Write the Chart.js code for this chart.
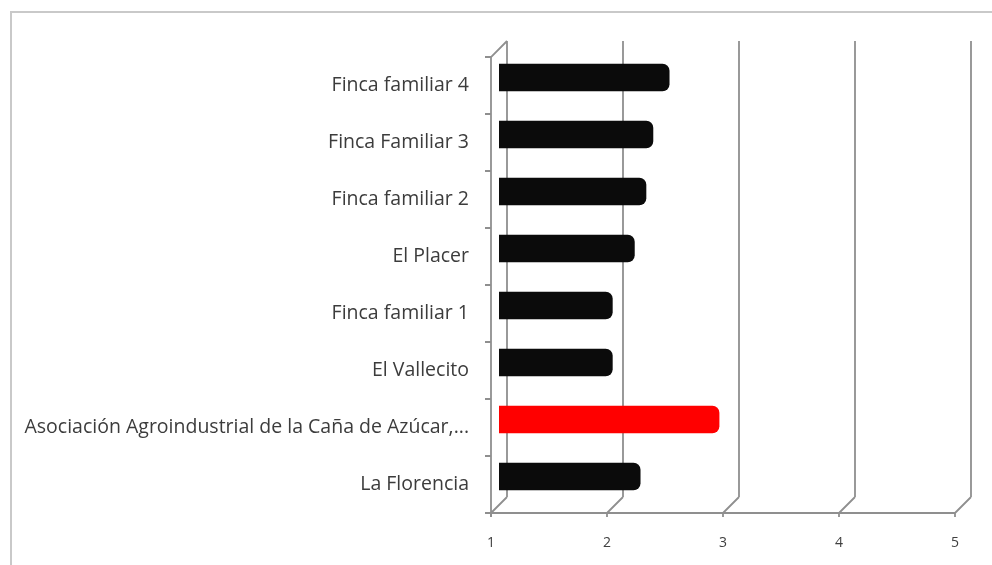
<!DOCTYPE html>
<html>
<head>
<meta charset="utf-8">
<script src="https://cdn.jsdelivr.net/npm/chart.js@4.4.1/dist/chart.umd.min.js"></script>
<style>
  html, body { margin: 0; padding: 0; background: #ffffff; }
  #wrap { width: 992px; height: 565px; position: relative; }
</style>
</head>
<body>
<div id="wrap"><canvas id="c" width="992" height="565"></canvas></div>
<script>
// Farms / organisations, top to bottom
const categories = [
  'Finca familiar 4',
  'Finca Familiar 3',
  'Finca familiar 2',
  'El Placer',
  'Finca familiar 1',
  'El Vallecito',
  'Asociación Agroindustrial de la Caña de Azúcar,...',
  'La Florencia'
];
const scores = [2.47, 2.33, 2.27, 2.17, 1.98, 1.98, 2.9, 2.22];
const barColors = ['#0b0b0b', '#0b0b0b', '#0b0b0b', '#0b0b0b', '#0b0b0b', '#0b0b0b', '#ff0000', '#0b0b0b'];
const axisTicks = [1, 2, 3, 4, 5];

const DEPTH = 8; // half depth of the pseudo-3D box, in px
const WALL = '#8f8f8f';

// Outer frame of the chart
const framePlugin = {
  id: 'frame',
  beforeDraw(chart) {
    const ctx = chart.ctx;
    ctx.save();
    ctx.strokeStyle = '#c9c9c9';
    ctx.lineWidth = 2;
    ctx.beginPath();
    ctx.moveTo(11, 565);
    ctx.lineTo(11, 12);
    ctx.lineTo(992, 12);
    ctx.stroke();
    ctx.restore();
  }
};

// Back wall, side wall and floor of the 3D box
const wallsPlugin = {
  id: 'walls',
  beforeDatasetsDraw(chart) {
    const { ctx, chartArea: a, scales } = chart;
    const xs = scales.x;
    const top = a.top, bottom = a.bottom;
    ctx.save();
    ctx.strokeStyle = WALL;
    ctx.lineWidth = 1.8;
    ctx.beginPath();
    // back wall verticals
    axisTicks.forEach(v => {
      const px = xs.getPixelForValue(v) + DEPTH;
      ctx.moveTo(px, top - DEPTH);
      ctx.lineTo(px, bottom - DEPTH);
      // floor diagonals
      ctx.moveTo(px, bottom - DEPTH);
      ctx.lineTo(px - 2 * DEPTH, bottom + DEPTH);
    });
    // floor front edge
    const f1 = xs.getPixelForValue(axisTicks[0]) - DEPTH;
    const f5 = xs.getPixelForValue(axisTicks[axisTicks.length - 1]) - DEPTH;
    ctx.moveTo(f1, bottom + DEPTH);
    ctx.lineTo(f5, bottom + DEPTH);
    // side wall front edge and top diagonal
    ctx.moveTo(f1, bottom + DEPTH + 4);
    ctx.lineTo(f1, top + DEPTH);
    ctx.lineTo(f1 + 2 * DEPTH, top - DEPTH);
    ctx.stroke();

    // category separators on the side wall
    ctx.beginPath();
    const n = categories.length;
    const band = (bottom - top) / n;
    for (let i = 0; i <= n; i++) {
      const y = top + DEPTH + i * band;
      ctx.moveTo(f1 - 6, y);
      ctx.lineTo(f1, y);
    }
    // small ticks under the floor edge
    axisTicks.forEach(v => {
      const px = xs.getPixelForValue(v) - DEPTH;
      ctx.moveTo(px, bottom + DEPTH);
      ctx.lineTo(px, bottom + DEPTH + 4);
    });
    ctx.stroke();
    ctx.restore();
  }
};

new Chart(document.getElementById('c'), {
  type: 'bar',
  data: {
    labels: categories,
    datasets: [{
      data: scores,
      backgroundColor: barColors,
      borderColor: barColors,
      borderWidth: 0,
      borderRadius: 7,
      borderSkipped: 'start',
      categoryPercentage: 1,
      barPercentage: 0.48
    }]
  },
  options: {
    indexAxis: 'y',
    responsive: false,
    animation: false,
    layout: { padding: { top: 49, right: 29, left: 0, bottom: 0 } },
    plugins: { legend: { display: false }, tooltip: { enabled: false } },
    scales: {
      x: {
        min: 1,
        max: 5,
        afterFit(s) { s.height = 60; },
        afterBuildTicks(s) { s.ticks = axisTicks.map(v => ({ value: v })); },
        grid: { display: false },
        border: { display: false },
        ticks: {
          padding: 22,
          labelOffset: -DEPTH,
          color: '#404040',
          font: { family: 'Open Sans', size: 14 }
        }
      },
      y: {
        afterFit(s) { s.width = 499; },
        grid: { display: false },
        border: { display: false },
        ticks: {
          padding: 22,
          labelOffset: DEPTH,
          color: '#3c3c3c',
          font: { family: 'Open Sans', size: 19.5 }
        }
      }
    }
  },
  plugins: [framePlugin, wallsPlugin]
});
</script>
</body>
</html>
